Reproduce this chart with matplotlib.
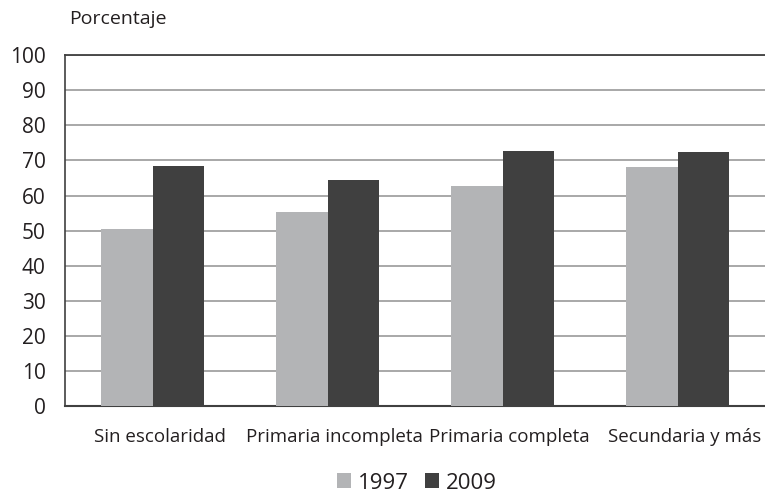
import matplotlib
matplotlib.use("Agg")
import matplotlib.pyplot as plt
import matplotlib.transforms as mtransforms
import numpy as np

categories = ["Sin escolaridad", "Primaria incompleta", "Primaria completa", "Secundaria y más"]
years = ["1997", "2009"]
values_1997 = [50.4, 55.2, 62.8, 68.2]
values_2009 = [68.5, 64.5, 72.6, 72.4]
yticks = list(range(0, 101, 10))

plt.rcParams['font.family'] = ['Open Sans', 'DejaVu Sans']
text_color = '#231f20'

fig = plt.figure(figsize=(7.65, 4.97), dpi=100)
ax = fig.add_axes([0.085, 0.183, 0.915, 0.706])

x = np.arange(len(categories))
w = 0.294
ax.bar(x - w / 2, values_1997, w, color='#b3b4b6', label=years[0], zorder=3)
ax.bar(x + w / 2, values_2009, w, color='#404040', label=years[1], zorder=3)

ax.set_xlim(-0.5, len(categories) - 0.5)
ax.set_ylim(0, 100)
ax.set_yticks(yticks)
ax.set_yticklabels([str(t) for t in yticks], fontsize=15, color=text_color)
ax.set_xticks(x)
ax.set_xticklabels(categories, fontsize=13.5, color=text_color)
ax.tick_params(axis='y', length=0, pad=14)
ax.tick_params(axis='x', length=0, pad=16)

# category labels sit a little right of the bar groups in the original
shift = mtransforms.ScaledTranslation(7 / 100, 0, fig.dpi_scale_trans)
for lbl in ax.get_xticklabels():
    lbl.set_transform(lbl.get_transform() + shift)

ax.grid(axis='y', color='#9a9a9a', linewidth=1.2, zorder=0)
ax.spines['right'].set_visible(False)
ax.spines['top'].set_color('#404040')
ax.spines['top'].set_linewidth(1.3)
ax.spines['left'].set_color('#404040')
ax.spines['left'].set_linewidth(1.2)
ax.spines['bottom'].set_color('#404040')
ax.spines['bottom'].set_linewidth(1.5)

fig.text(0.091, 0.962, "Porcentaje", fontsize=14, color=text_color, va='center')

fig.legend(loc='center', bbox_to_anchor=(0.545, 0.028), ncol=2, frameon=False,
           fontsize=16, handlelength=0.65, handleheight=0.65, handletextpad=0.3,
           columnspacing=0.7, labelcolor=text_color)

fig.savefig("out.png", dpi=100)
